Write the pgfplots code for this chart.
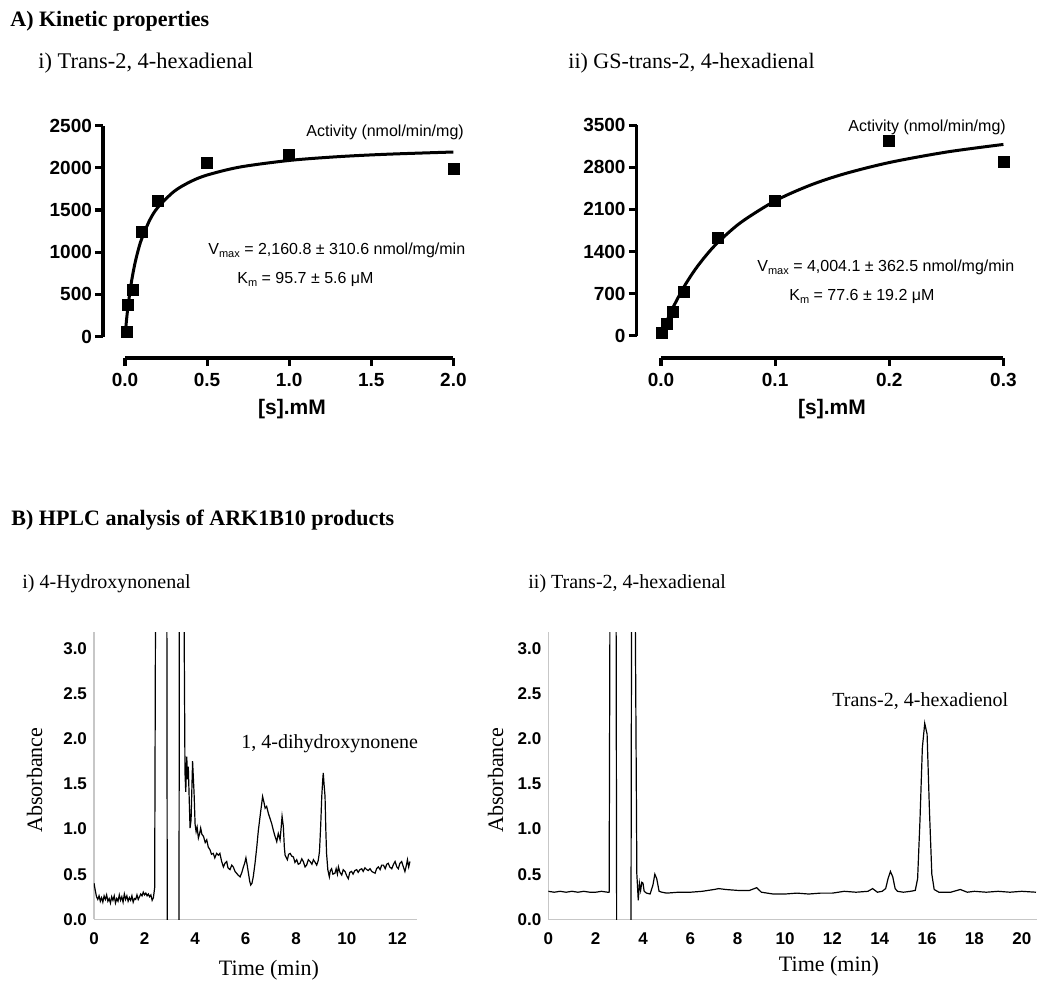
\documentclass[border=0pt]{standalone}
\usepackage{fontspec}
\setmainfont{Liberation Serif}
\newfontfamily\arial{Liberation Sans}
\usepackage{pgfplots}
\pgfplotsset{compat=1.18}

\newcommand\sub[1]{\raisebox{-0.45ex}{\fontsize{5.5}{6}\selectfont #1}}

\pgfplotsset{
  kin/.style={
    scale only axis, anchor=south west, clip=false,
    axis x line*=bottom, axis y line*=left, separate axis lines,
    axis line style={line width=1.6pt,-},
    tick align=outside, major tick length=4pt,
    every tick/.style={line width=1.6pt, black},
    /pgf/number format/assume math mode=true,
    scaled ticks=false,
    tick label style={font=\arial\bfseries\fontsize{9.5}{11}\selectfont},
    yticklabel style={/pgf/number format/1000 sep={}, xshift=2pt},
    xticklabel style={/pgf/number format/.cd,fixed,fixed zerofill,precision=1},
  },
  hplc/.style={
    scale only axis, anchor=south west,
    axis lines=left,
    axis line style={-, black!22, line width=0.7pt},
    major tick length=0pt,
    /pgf/number format/assume math mode=true,
    tick label style={font=\arial\bfseries\fontsize{8.5}{10}\selectfont},
    xticklabel style={yshift=-3pt},
    yticklabel style={/pgf/number format/.cd,fixed,fixed zerofill,precision=1},
    ymin=0, ymax=3.18, ytick={0,0.5,...,3.0},
  },
}

\begin{document}
\begin{tikzpicture}
\begin{scope}[x=0.5pt,y=-0.5pt]
\useasboundingbox (0,0) rectangle (1050,986);

% headings
\node[anchor=base west, font=\bfseries\fontsize{11}{13}\selectfont, inner sep=0] at (10,26) {A) Kinetic properties};
\node[anchor=base west, font=\fontsize{11.2}{13}\selectfont, inner sep=0] at (38,68) {i) Trans-2, 4-hexadienal};
\node[anchor=base west, font=\fontsize{11}{13}\selectfont, inner sep=0] at (568,68) {ii) GS-trans-2, 4-hexadienal};
\node[anchor=base west, font=\bfseries\fontsize{11}{13}\selectfont, inner sep=0] at (11,525) {B) HPLC analysis of ARK1B10 products};
\node[anchor=base west, font=\fontsize{10}{12}\selectfont, inner sep=0] at (22,588) {i) 4-Hydroxynonenal};
\node[anchor=base west, font=\fontsize{10}{12}\selectfont, inner sep=0] at (528,588) {ii) Trans-2, 4-hexadienal};

% kinetic panel texts
\node[anchor=base west, font=\arial\fontsize{8}{10}\selectfont, inner sep=0] at (306,136) {Activity (nmol/min/mg)};
\node[anchor=base west, font=\arial\fontsize{8}{10}\selectfont, inner sep=0] at (208,254) {V\sub{max} = 2,160.8 ± 310.6 nmol/mg/min};
\node[anchor=base west, font=\arial\fontsize{8}{10}\selectfont, inner sep=0] at (237,283) {K\sub{m} = 95.7 ± 5.6 μM};
\node[anchor=base, font=\arial\bfseries\fontsize{10.5}{12}\selectfont, inner sep=0] at (292,414) {[s].mM};

\node[anchor=base west, font=\arial\fontsize{8}{10}\selectfont, inner sep=0] at (848,131) {Activity (nmol/min/mg)};
\node[anchor=base west, font=\arial\fontsize{8}{10}\selectfont, inner sep=0] at (757,271) {V\sub{max} = 4,004.1 ± 362.5 nmol/mg/min};
\node[anchor=base west, font=\arial\fontsize{8}{10}\selectfont, inner sep=0] at (789,300) {K\sub{m} = 77.6 ± 19.2 μM};
\node[anchor=base, font=\arial\bfseries\fontsize{10.5}{12}\selectfont, inner sep=0] at (832,414) {[s].mM};

% HPLC texts
\node[anchor=base, rotate=90, font=\fontsize{11}{13}\selectfont, inner sep=0] at (42,780) {Absorbance};
\node[anchor=base, font=\fontsize{11}{13}\selectfont, inner sep=0] at (269,975) {Time (min)};
\node[anchor=base west, font=\fontsize{10}{12}\selectfont, inner sep=0] at (241,748) {1, 4-dihydroxynonene};

\node[anchor=base, rotate=90, font=\fontsize{11}{13}\selectfont, inner sep=0] at (503,780) {Absorbance};
\node[anchor=base, font=\fontsize{11}{13}\selectfont, inner sep=0] at (829,971) {Time (min)};
\node[anchor=base west, font=\fontsize{10}{12}\selectfont, inner sep=0] at (832,706) {Trans-2, 4-hexadienol};
\end{scope}

% A i) Trans-2,4-hexadienal
\begin{axis}[kin, at={(62.5pt,-168.25pt)}, width=164.2pt, height=105.5pt,
  xmin=0, xmax=2, ymin=0, ymax=2500,
  xtick={0,0.5,1,1.5,2}, ytick={0,500,1000,1500,2000,2500},
  axis x line shift=10.75pt, axis y line shift=11pt]
\addplot[black, line width=1.5pt, smooth] coordinates {
(0,0) (0.01,209) (0.02,383) (0.04,656) (0.06,861) (0.08,1020) (0.1,1148)
(0.15,1377) (0.2,1530) (0.3,1721) (0.4,1836) (0.5,1913) (0.7,2008)
(1.0,2086) (1.3,2131) (1.6,2160) (2.0,2186)};
\addplot[only marks, mark=square*, mark size=2.75pt, black] coordinates {
(0.01,50) (0.02,380) (0.05,550) (0.1,1240) (0.2,1606) (0.5,2059) (1.0,2146) (2.0,1988)};
\end{axis}

% A ii) GS-trans-2,4-hexadienal
\begin{axis}[kin, at={(330.5pt,-167.85pt)}, width=171.2pt, height=105.3pt,
  xmin=0, xmax=0.3, ymin=0, ymax=3500,
  xtick={0,0.1,0.2,0.3}, ytick={0,700,1400,2100,2800,3500},
  axis x line shift=11.1pt, axis y line shift=12.2pt]
\addplot[black, line width=1.5pt, smooth] coordinates {
(0,0) (0.005,238) (0.01,449) (0.02,808) (0.03,1102) (0.04,1346) (0.05,1553)
(0.07,1883) (0.1,2241) (0.13,2496) (0.16,2687) (0.2,2878) (0.25,3052) (0.3,3179)};
\addplot[only marks, mark=square*, mark size=2.75pt, black] coordinates {
(0.001,50) (0.005,190) (0.01,400) (0.02,720) (0.05,1630) (0.1,2240) (0.2,3240) (0.3,2890)};
\end{axis}

% B i) 4-Hydroxynonenal
\begin{axis}[hplc, at={(47pt,-459.65pt)}, width=161.4pt, height=143.6pt,
  xmin=0, xmax=12.77, xtick={0,2,...,12}]
\addplot[black, line width=0.6pt] coordinates {
(0,0.40)(0.05,0.32)(0.1,0.25)(0.15,0.22)(0.2,0.26)(0.25,0.20)(0.3,0.24)(0.35,0.19)
(0.4,0.26)(0.45,0.22)(0.5,0.27)(0.55,0.20)(0.6,0.23)(0.65,0.18)(0.7,0.25)(0.75,0.21)
(0.8,0.26)(0.85,0.18)(0.9,0.23)(0.95,0.20)(1.0,0.27)(1.05,0.21)(1.1,0.25)(1.15,0.19)
(1.2,0.28)(1.25,0.22)(1.3,0.26)(1.35,0.20)(1.4,0.24)(1.45,0.21)(1.5,0.26)(1.55,0.19)
(1.6,0.23)(1.65,0.22)(1.7,0.27)(1.75,0.22)(1.8,0.25)(1.85,0.28)(1.9,0.26)(1.95,0.30)
(2.0,0.27)(2.05,0.29)(2.1,0.26)(2.15,0.28)(2.2,0.25)(2.25,0.27)(2.3,0.21)(2.35,0.24)
(2.40,0.35)(2.44,4)(2.88,4)(2.90,-0.5)(3.36,-0.5)(3.38,4)(3.55,4)
(3.60,1.62)(3.63,1.41)(3.67,1.80)(3.70,1.55)(3.73,1.69)(3.80,1.01)(3.84,1.10)(3.90,1.75)
(3.96,1.39)(4.00,1.05)(4.04,0.97)(4.08,1.02)(4.13,0.90)(4.18,0.95)(4.22,1.01)(4.27,0.94)
(4.33,0.92)(4.40,0.85)(4.46,0.88)(4.52,0.80)(4.59,0.77)(4.65,0.72)(4.72,0.73)(4.78,0.68)
(4.85,0.73)(4.92,0.71)(4.98,0.73)(5.05,0.64)(5.12,0.58)(5.18,0.62)(5.25,0.64)(5.30,0.57)
(5.38,0.55)(5.45,0.60)(5.51,0.58)(5.58,0.53)(5.64,0.51)(5.70,0.49)(5.78,0.47)(5.85,0.52)
(5.91,0.58)(5.96,0.62)(6.01,0.68)(6.06,0.60)(6.11,0.51)(6.16,0.42)(6.20,0.38)(6.25,0.40)
(6.30,0.47)(6.37,0.62)(6.44,0.80)(6.50,0.98)(6.57,1.14)(6.62,1.25)(6.67,1.36)(6.72,1.30)
(6.77,1.23)(6.83,1.25)(6.90,1.17)(6.96,1.12)(7.03,1.06)(7.10,0.98)(7.16,0.92)(7.23,0.86)
(7.29,0.95)(7.36,0.88)(7.40,1.00)(7.44,1.14)(7.49,1.03)(7.53,0.80)(7.56,0.71)(7.65,0.66)
(7.70,0.72)(7.76,0.73)(7.82,0.70)(7.89,0.69)(7.95,0.63)(8.02,0.66)(8.08,0.61)(8.15,0.62)
(8.22,0.67)(8.28,0.64)(8.35,0.58)(8.41,0.60)(8.48,0.66)(8.55,0.64)(8.62,0.61)(8.68,0.66)
(8.75,0.63)(8.81,0.60)(8.87,0.65)(8.92,0.75)(8.97,1.05)(9.01,1.36)(9.05,1.55)(9.07,1.62)
(9.10,1.50)(9.14,1.36)(9.17,1.00)(9.20,0.73)(9.25,0.55)(9.31,0.47)(9.35,0.54)(9.40,0.56)
(9.45,0.50)(9.53,0.51)(9.58,0.56)(9.63,0.50)(9.67,0.58)(9.73,0.52)(9.80,0.49)(9.86,0.55)
(9.93,0.53)(10.00,0.48)(10.06,0.45)(10.12,0.52)(10.19,0.53)(10.25,0.50)(10.32,0.54)(10.39,0.55)
(10.45,0.52)(10.52,0.55)(10.59,0.56)(10.65,0.53)(10.72,0.57)(10.79,0.55)(10.85,0.54)(10.92,0.56)
(10.99,0.53)(11.05,0.52)(11.12,0.51)(11.18,0.56)(11.25,0.58)(11.32,0.55)(11.38,0.60)(11.45,0.60)
(11.52,0.56)(11.58,0.61)(11.64,0.62)(11.70,0.58)(11.78,0.56)(11.85,0.61)(11.91,0.64)(11.98,0.58)
(12.04,0.56)(12.10,0.62)(12.17,0.64)(12.24,0.58)(12.30,0.53)(12.36,0.60)(12.40,0.66)(12.45,0.58)
(12.50,0.64)};
\end{axis}

% B ii) Trans-2,4-hexadienal
\begin{axis}[hplc, at={(274.15pt,-459.65pt)}, width=244.2pt, height=143.6pt,
  xmin=0, xmax=20.63, xtick={0,2,...,20}]
\addplot[black, line width=0.6pt] coordinates {
(0,0.31)(0.25,0.30)(0.5,0.31)(0.75,0.30)(1.0,0.31)(1.25,0.30)(1.5,0.31)(1.75,0.30)
(2.0,0.30)(2.25,0.31)(2.5,0.30)(2.57,0.30)(2.61,4)(2.86,4)(2.89,-0.5)(3.49,-0.5)(3.52,4)
(3.66,4)(3.74,0.5)(3.80,0.21)(3.85,0.40)(3.90,0.32)(3.95,0.41)(4.00,0.40)(4.05,0.31)
(4.15,0.29)(4.30,0.28)(4.42,0.38)(4.50,0.50)(4.58,0.45)(4.68,0.31)(4.8,0.30)(5.0,0.29)
(5.5,0.30)(6.0,0.30)(6.5,0.31)(7.0,0.33)(7.2,0.34)(7.5,0.33)(8.0,0.32)(8.5,0.32)
(8.8,0.35)(9.0,0.30)(9.5,0.28)(10.0,0.28)(10.5,0.29)(11.0,0.28)(11.5,0.29)(12.0,0.29)
(12.5,0.31)(13.0,0.30)(13.5,0.31)(13.7,0.34)(13.9,0.30)(14.1,0.31)(14.25,0.34)(14.35,0.45)
(14.45,0.53)(14.55,0.47)(14.65,0.34)(14.75,0.31)(15.0,0.30)(15.3,0.31)(15.5,0.32)(15.6,0.45)
(15.7,1.1)(15.8,1.9)(15.9,2.17)(16.0,2.05)(16.1,1.2)(16.2,0.5)(16.3,0.33)(16.5,0.30)
(17.0,0.30)(17.4,0.33)(17.7,0.30)(18.0,0.31)(18.5,0.30)(19.0,0.31)(19.5,0.30)(20.0,0.31)
(20.6,0.30)};
\end{axis}
\end{tikzpicture}
\end{document}
